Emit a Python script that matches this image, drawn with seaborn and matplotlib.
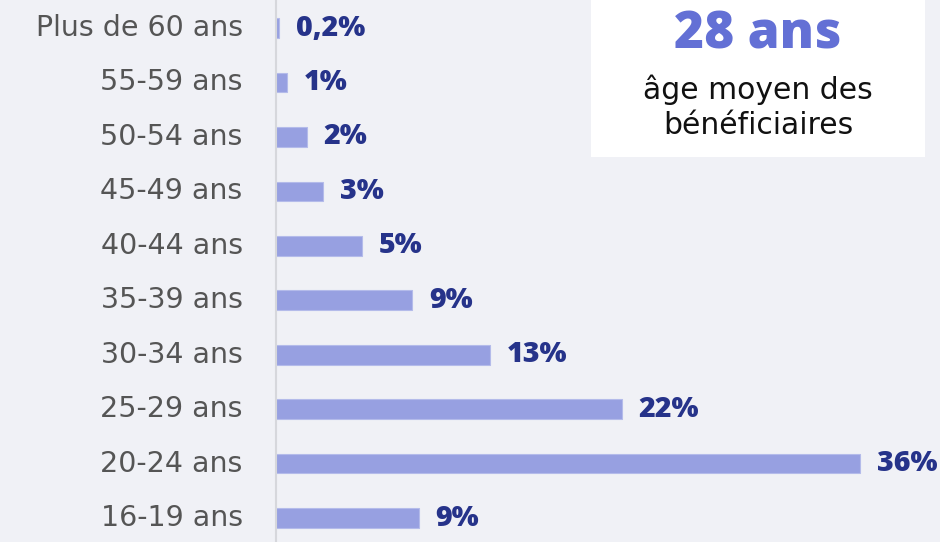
import matplotlib
matplotlib.use("Agg")
import matplotlib.pyplot as plt
import matplotlib.transforms as mtransforms
from matplotlib.patches import Rectangle
import seaborn as sns
import pandas as pd

categories = ["Plus de 60 ans", "55-59 ans", "50-54 ans", "45-49 ans", "40-44 ans",
              "35-39 ans", "30-34 ans", "25-29 ans", "20-24 ans", "16-19 ans"]
values = [0.2, 0.7, 1.9, 2.9, 5.3, 8.4, 13.2, 21.3, 36.0, 8.8]
value_labels = ["0,2%", "1%", "2%", "3%", "5%", "9%", "13%", "22%", "36%", "9%"]
box_title = "28 ans"
box_text = "âge moyen des\nbénéficiaires"

sns.set_theme(style="white")
plt.rcParams["font.family"] = ["DejaVu Sans"]

BG = "#f0f1f6"
BAR = "#97a0e1"
LABEL = "#26338a"
TICK = "#555555"
BOLD_FONT = ["Open Sans", "DejaVu Sans"]

df = pd.DataFrame({"cat": categories, "val": values})

fig = plt.figure(figsize=(9.4, 5.42), dpi=100, facecolor=BG)
ax = fig.add_axes([276 / 940, 0, 664 / 940, 1])
ax.set_facecolor(BG)

sns.barplot(data=df, y="cat", x="val", orient="h", color=BAR, width=0.36,
            saturation=1, edgecolor="#b4bbea", linewidth=0.8, ax=ax)

ax.set_xlim(0, 40.9)
ax.set_ylim(9.44, -0.515)
ax.set_xlabel("")
ax.set_ylabel("")
ax.set_xticks([])
for s in ["top", "right", "bottom"]:
    ax.spines[s].set_visible(False)
ax.spines["left"].set_color("#d6d7dc")
ax.spines["left"].set_linewidth(1.5)
ax.tick_params(axis="y", length=0, pad=24, labelsize=20.5, labelcolor=TICK)
for t in ax.get_yticklabels():
    t.set_verticalalignment("center")

offset = mtransforms.offset_copy(ax.transData, fig=fig, x=12, y=0, units="points")
for i, (v, lab) in enumerate(zip(values, value_labels)):
    ax.text(v, i, lab, transform=offset, ha="left", va="center",
            fontsize=20.5, fontweight=800, color=LABEL, family=BOLD_FONT)

# info box
fig.patches.append(Rectangle((591 / 940, 1 - 157 / 542), 334 / 940, 157 / 542,
                             transform=fig.transFigure, facecolor="white",
                             edgecolor="none", zorder=5))
fig.text(758 / 940, 1 - 35 / 542, box_title, ha="center", va="center",
         fontsize=37, fontweight=800, color="#6370d5", zorder=6, family=BOLD_FONT)
fig.text(758 / 940, 1 - 107 / 542, box_text, ha="center", va="center",
         fontsize=21.5, color="#111111", linespacing=1.28, zorder=6)

fig.savefig("out.png", dpi=100, facecolor=BG)
